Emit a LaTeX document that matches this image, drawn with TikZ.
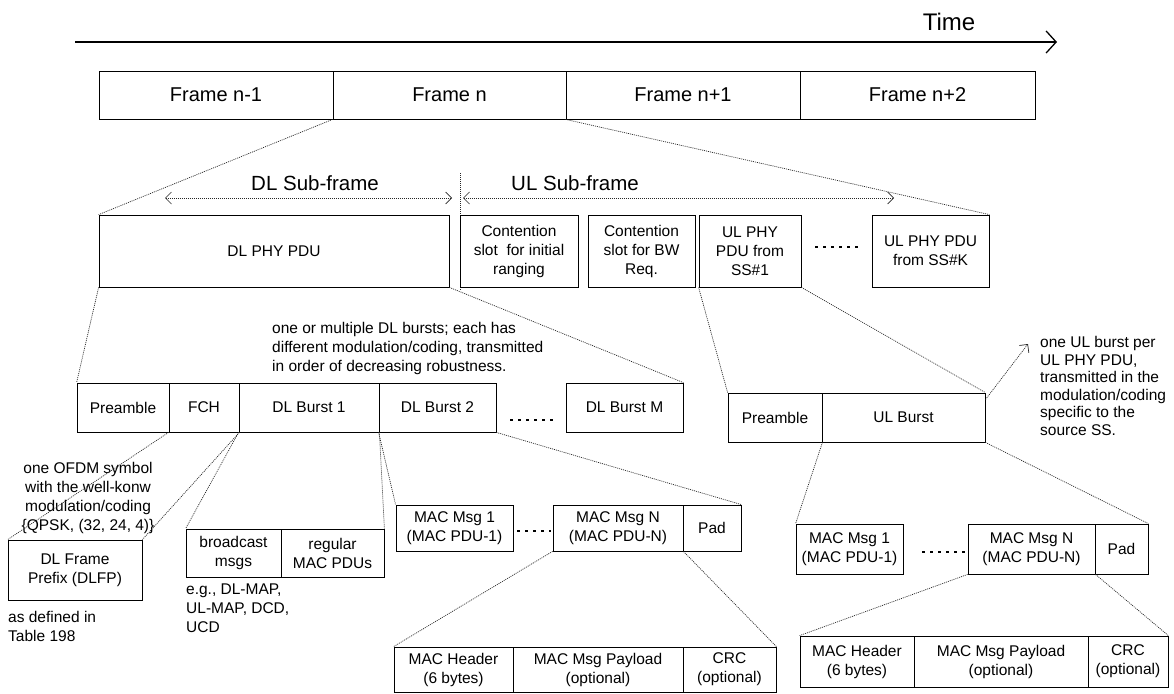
\documentclass[tikz,border=0pt]{standalone}
\usepackage{fontspec}
\setmainfont{Liberation Sans}
\usetikzlibrary{arrows.meta,calc}
\begin{document}
\begin{tikzpicture}[x=1pt,y=-1pt,
  box/.style={draw, line width=0.8pt, rectangle, inner sep=0pt, align=center, font=\fontsize{15.5}{19}\selectfont},
  frm/.style={box, font=\fontsize{20}{24}\selectfont},
  conn/.style={black!85, line width=0.7pt, dash pattern=on 1pt off 1pt},
  dotsline/.style={line width=2.6pt, dash pattern=on 2.6pt off 5.4pt},
  lbl/.style={inner sep=0pt, font=\fontsize{15.5}{19}\selectfont, align=left},
  big/.style={inner sep=0pt, font=\fontsize{20.5}{24}\selectfont},
  barb/.style={-{Straight Barb[length=6pt,width=12pt]}},
  dbarb/.style={{Straight Barb[length=6pt,width=12pt]}-{Straight Barb[length=6pt,width=12pt]}},
]
\useasboundingbox (0,0) rectangle (1174,693);

% time axis
\coordinate (t0) at (75,42);
\coordinate (t1) at (1057,42);
\draw[line width=1.3pt, -{Straight Barb[length=10pt,width=22pt]}] (t0) -- (t1);
\node[inner sep=0pt, font=\fontsize{24}{28}\selectfont] (time) at (949,22) {Time};

% frames
\node[frm, minimum width=234pt, minimum height=48pt] (f1) at (216,95) {Frame n-1};
\node[frm, minimum width=233pt, minimum height=48pt] (f2) at (449.5,95) {Frame n};
\node[frm, minimum width=234pt, minimum height=48pt] (f3) at (683,95) {Frame n+1};
\node[frm, minimum width=235pt, minimum height=48pt] (f4) at (917.5,95) {Frame n+2};

% sub-frame labels and arrows
\node[big] (dlsf) at (315,183) {DL Sub-frame};
\node[big] (ulsf) at (575,183) {UL Sub-frame};
\coordinate (dl0) at (165,198);
\coordinate (dl1) at (452,198);
\coordinate (ul0) at (463,198);
\coordinate (ul1) at (894,198);
\coordinate (sep0) at (460,173);
\coordinate (sep1) at (460,290);
\draw[conn, dbarb] (dl0) -- (dl1);
\draw[conn, dbarb] (ul0) -- (ul1);
\draw[conn] (sep0) -- (sep1);

% row 2
\node[box, minimum width=350pt, minimum height=72pt] (dlphy) at (274,251) {DL PHY PDU};
\node[box, minimum width=118pt, minimum height=72pt] (cinit) at (519,251) {Contention\\slot\ \ for initial\\ranging};
\node[box, minimum width=107pt, minimum height=72pt] (cbw) at (641.5,251) {Contention\\slot for BW\\Req.};
\node[box, minimum width=102pt, minimum height=72pt] (ss1) at (750,251) {UL PHY\\PDU from\\SS\#1};
\node[box, minimum width=117pt, minimum height=72pt] (ssk) at (930.5,251) {UL PHY PDU\\from SS\#K};
\draw[dotsline] (815,247) -- (862,247);

% row 3 DL
\node[box, minimum width=92pt, minimum height=49pt] (pre) at (123,407.5) {Preamble};
\node[box, minimum width=70pt, minimum height=49pt] (fch) at (204,407.5) {FCH};
\node[box, minimum width=140pt, minimum height=49pt] (b1) at (309,407.5) {DL Burst 1};
\node[box, minimum width=117pt, minimum height=49pt] (b2) at (437.5,407.5) {DL Burst 2};
\node[box, minimum width=117pt, minimum height=49pt] (bm) at (624.5,407.5) {DL Burst M};
\draw[dotsline] (510,420) -- (557,420);

% row 3 UL
\node[box, minimum width=94pt, minimum height=49pt] (upre) at (775,417.5) {Preamble};
\node[box, minimum width=163pt, minimum height=49pt] (uburst) at (903.5,417.5) {UL Burst};

% annotations
\node[lbl, anchor=west] (dlnote) at (272,348) {one or multiple DL bursts; each has\\different modulation/coding, transmitted\\in order of decreasing robustness.};
\node[inner sep=0pt, font=\fontsize{15.5}{17.6}\selectfont, align=left, anchor=west] (ulnote) at (1040,386) {one UL burst per\\UL PHY PDU,\\transmitted in the\\modulation/coding\\specific to the\\source SS.};
\coordinate (ua0) at ($(uburst.north east)+(0,7)$);
\coordinate (ua1) at (1028,344);
\draw[conn, barb] (ua0) -- (ua1);
\node[inner sep=0pt, font=\fontsize{15.5}{19}\selectfont, align=center] (ofdm) at (88,498) {one OFDM symbol\\with the well-konw\\modulation/coding\\\{QPSK, (32, 24, 4)\}};

% row 4 DL
\node[box, minimum width=134pt, minimum height=60pt] (dlfp) at (75,570) {DL Frame\\Prefix (DLFP)};
\node[lbl, anchor=west] (asdef) at (8,626) {as defined in\\Table 198};
\node[box, minimum width=95pt, minimum height=48pt] (bc) at (233.5,553) {broadcast\\msgs};
\node[box, minimum width=103pt, minimum height=48pt] (reg) at (332.5,553) {regular\\MAC PDUs};
\node[lbl, anchor=west] (eg) at (186,608) {e.g., DL-MAP,\\UL-MAP, DCD,\\UCD};
\node[box, minimum width=117pt, minimum height=46pt] (m1) at (454.5,528) {MAC Msg 1\\(MAC PDU-1)};
\node[box, minimum width=130pt, minimum height=46pt] (mn) at (618,528) {MAC Msg N\\(MAC PDU-N)};
\node[box, minimum width=58pt, minimum height=46pt] (pad) at (712,528) {Pad};
\draw[dotsline] (517,531) -- (551,531);

% row 4 UL
\node[box, minimum width=107pt, minimum height=50pt] (um1) at (849.5,549) {MAC Msg 1\\(MAC PDU-1)};
\node[box, minimum width=127pt, minimum height=50pt] (umn) at (1031.5,549) {MAC Msg N\\(MAC PDU-N)};
\node[box, minimum width=53pt, minimum height=50pt] (upad) at (1121.5,549) {Pad};
\draw[dotsline] (922,552) -- (966,552);

% row 5 DL
\node[box, minimum width=119pt, minimum height=45pt] (hdr) at (453.5,669.5) {MAC Header\\(6 bytes)};
\node[box, minimum width=170pt, minimum height=45pt] (pay) at (598,669.5) {MAC Msg Payload\\(optional)};
\node[box, minimum width=93pt, minimum height=45pt] (crc) at (729.5,669.5) {CRC\\(optional)};

% row 5 UL
\node[box, minimum width=114pt, minimum height=51pt] (uhdr) at (857,661.5) {MAC Header\\(6 bytes)};
\node[box, minimum width=174pt, minimum height=51pt] (upay) at (1001,661.5) {MAC Msg Payload\\(optional)};
\node[box, minimum width=80pt, minimum height=51pt] (ucrc) at (1128,661.5) {CRC\\(optional)};

% connectors
\draw[conn] (f2.south west) -- (dlphy.north west);
\draw[conn] (f3.south west) -- (ssk.north east);
\draw[conn] (dlphy.south west) -- (pre.north west);
\draw[conn] (dlphy.south east) -- (bm.north east);
\draw[conn] (ss1.south west) -- (upre.north west);
\draw[conn] (ss1.south east) -- (uburst.north east);
\draw[conn] (fch.south west) -- (dlfp.north west);
\draw[conn] (fch.south east) -- (dlfp.north east);
\draw[conn] (b1.south west) -- (bc.north west);
\draw[conn] (b1.south east) -- (reg.north east);
\draw[conn] (b2.south west) -- (m1.north west);
\draw[conn] (b2.south east) -- (pad.north east);
\draw[conn] (upre.south east) -- (um1.north west);
\draw[conn] (uburst.south east) -- (upad.north east);
\draw[conn] (mn.south west) -- (hdr.north west);
\draw[conn] (mn.south east) -- (crc.north east);
\draw[conn] (umn.south west) -- (uhdr.north west);
\draw[conn] (umn.south east) -- (ucrc.north east);
\end{tikzpicture}
\end{document}
